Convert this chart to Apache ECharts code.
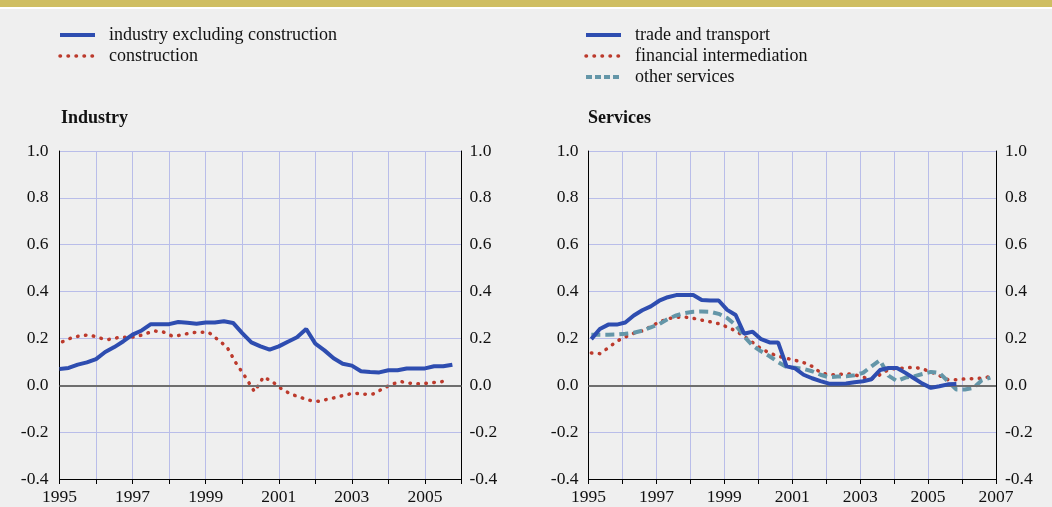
<!DOCTYPE html>
<html>
<head>
<meta charset="utf-8">
<script src="https://cdn.jsdelivr.net/npm/echarts@6/dist/echarts.min.js"></script>
<style>
html,body{margin:0;padding:0;background:#EFEFEF;}
#chart{width:1052px;height:507px;}
</style>
</head>
<body>
<div id="chart"></div>
<script>
// ---- periods (quarterly observations, YYYY-MM) ----
const periodsStart = ['1995-01','1995-04','1995-07','1995-10','1996-01','1996-04','1996-07','1996-10',
  '1997-01','1997-04','1997-07','1997-10','1998-01','1998-04','1998-07','1998-10',
  '1999-01','1999-04','1999-07','1999-10','2000-01','2000-04','2000-07','2000-10',
  '2001-01','2001-04','2001-07','2001-10','2002-01','2002-04','2002-07','2002-10',
  '2003-01','2003-04','2003-07','2003-10','2004-01','2004-04','2004-07','2004-10',
  '2005-01','2005-04','2005-07','2005-10'];
const periodsMid = ['1995-02','1995-05','1995-08','1995-11','1996-02','1996-05','1996-08','1996-11',
  '1997-02','1997-05','1997-08','1997-11','1998-02','1998-05','1998-08','1998-11',
  '1999-02','1999-05','1999-08','1999-11','2000-02','2000-05','2000-08','2000-11',
  '2001-02','2001-05','2001-08','2001-11','2002-02','2002-05','2002-08','2002-11',
  '2003-02','2003-05','2003-08','2003-11','2004-02','2004-05','2004-08','2004-11',
  '2005-02','2005-05','2005-08','2005-11','2006-02','2006-05','2006-08','2006-11'];

// ---- Industry panel ----
const industryExclConstruction = [0.070,0.074,0.088,0.098, 0.112,0.142,0.163,0.188,
  0.216,0.234,0.261,0.261, 0.261,0.270,0.267,0.263, 0.268,0.268,0.273,0.266,
  0.223,0.183,0.166,0.152, 0.166,0.186,0.205,0.240, 0.178,0.149,0.115,0.092,
  0.084,0.060,0.057,0.055, 0.064,0.064,0.072,0.072, 0.072,0.081,0.081,0.088];
const construction = [0.186,0.203,0.212,0.215, 0.202,0.195,0.203,0.205,
  0.206,0.219,0.232,0.228, 0.210,0.214,0.224,0.227, 0.226,0.195,0.163,0.094,
  0.036,-0.027,0.036,0.014, -0.016,-0.038,-0.051,-0.064, -0.068,-0.060,-0.051,-0.040,
  -0.034,-0.038,-0.037,-0.016, 0.004,0.016,0.009,0.006, 0.009,0.013,0.018];

// ---- Services panel ----
const tradeTransport = [0.197,0.240,0.259,0.259, 0.268,0.298,0.320,0.337,
  0.361,0.376,0.385,0.385, 0.385,0.364,0.362,0.362, 0.322,0.300,0.220,0.229,
  0.197,0.183,0.183,0.081, 0.072,0.045,0.030,0.018, 0.007,0.007,0.008,0.013,
  0.017,0.026,0.065,0.074, 0.074,0.053,0.030,0.007, -0.011,-0.004,0.004,0.006];
const financialIntermediation = [0.138,0.135,0.160,0.188, 0.206,0.222,0.232,0.251,
  0.270,0.284,0.290,0.291, 0.286,0.278,0.271,0.263, 0.249,0.232,0.209,0.183,
  0.156,0.138,0.124,0.115, 0.107,0.097,0.081,0.054, 0.045,0.045,0.050,0.045,
  0.034,0.027,0.045,0.067, 0.072,0.074,0.077,0.070, 0.057,0.041,0.024,0.024,
  0.027,0.028,0.031,0.037];
const otherServices = [0.216,0.216,0.216,0.217, 0.220,0.224,0.233,0.247,
  0.261,0.283,0.298,0.308, 0.314,0.315,0.314,0.305, 0.287,0.257,0.209,0.169,
  0.145,0.124,0.099,0.078, 0.075,0.070,0.060,0.045, 0.034,0.037,0.038,0.043,
  0.053,0.081,0.107,0.041, 0.018,0.033,0.038,0.048, 0.057,0.053,0.017,-0.018,
  -0.018,-0.011,0.021,0.033];

// ---- axis ticks ----
const yTicks = {min:-0.4, max:1.0, interval:0.2};
const xIndustry = {min:1995, max:2006};
const xServices = {min:1995, max:2007};
const titles = ['Industry','Services'];

function toYear(p){ const [y,m] = p.split('-').map(Number); return y + (m-1)/12; }
function pair(periods, vals){ return vals.map((v,i)=>[toYear(periods[i]), v]); }

const FONT = '"Liberation Serif","Times New Roman",serif';
const BLUE = '#2E4DB0', RED = '#BC3A2C', TEAL = '#6496A8';
const GRIDC = '#B9BDE9';

const chart = echarts.init(document.getElementById('chart'), null, {renderer:'canvas'});

function xAxisFor(grid, r){
  return {type:'value', gridIndex:grid, min:r.min, max:r.max, interval:1,
    axisLine:{onZero:false, lineStyle:{color:'#000', width:1}},
    axisTick:{show:true, length:5, lineStyle:{color:'#000'}},
    axisLabel:{margin:9, fontFamily:FONT, fontSize:17.5, color:'#111',
      formatter:v => ((v - r.min) % 2 === 0 ? String(v) : '')},
    splitLine:{show:true, lineStyle:{color:GRIDC, width:1}}};
}
function yAxisFor(grid, pos, margin){
  return {type:'value', gridIndex:grid, position:pos, min:yTicks.min, max:yTicks.max, interval:yTicks.interval,
    axisLine:{show:true, onZero:false, lineStyle:{color:'#000', width:1}},
    axisTick:{show:false},
    axisLabel:{margin:margin, fontFamily:FONT, fontSize:17.5, color:'#111', formatter:v => v.toFixed(1)},
    splitLine:{show:pos==='left', lineStyle:{color:GRIDC, width:1}}};
}
const zeroLine = {silent:true, symbol:['none','none'], label:{show:false},
  lineStyle:{color:'#6E6E6E', width:2, type:'solid'}, data:[{yAxis:0}], animation:false};

const solid = c => ({color:c, width:4, type:'solid'});
const dotted = c => ({color:c, width:3.5, type:[0.5,7.5], cap:'round'});
const dashed = c => ({color:c, width:4, type:[9,5]});

const legendText = {fontFamily:FONT, fontSize:18, color:'#111', lineHeight:18, padding:[0,0,0,9]};
const legendBase = {orient:'vertical', padding:0, itemWidth:35, itemHeight:10, itemGap:3, selectedMode:false,
  itemStyle:{opacity:0, borderWidth:0}, textStyle:legendText};

chart.setOption({
  backgroundColor:'#EFEFEF',
  animation:false,
  graphic:[
    {type:'rect', left:0, top:0, shape:{width:1052, height:7}, style:{fill:'#CFBE62'}},
    {type:'rect', left:0, top:7, shape:{width:1052, height:2}, style:{fill:'#FFFFFF'}}
  ],
  title:[
    {text:titles[0], left:61, top:109, padding:0, textStyle:{fontFamily:FONT, fontSize:18, fontWeight:'bold', color:'#111'}},
    {text:titles[1], left:588, top:109, padding:0, textStyle:{fontFamily:FONT, fontSize:18, fontWeight:'bold', color:'#111'}}
  ],
  legend:[
    Object.assign({left:58, top:26, data:[
      {name:'industry excluding construction', lineStyle:solid(BLUE)},
      {name:'construction', lineStyle:dotted(RED)}]}, legendBase),
    Object.assign({left:584, top:26, data:[
      {name:'trade and transport', lineStyle:solid(BLUE)},
      {name:'financial intermediation', lineStyle:dotted(RED)},
      {name:'other services', lineStyle:{color:TEAL, width:4, type:[6,3]}}]}, legendBase)
  ],
  grid:[
    {left:59.5, top:151, width:402, height:328},
    {left:588.5, top:151, width:407.5, height:328}
  ],
  xAxis:[xAxisFor(0, xIndustry), xAxisFor(1, xServices)],
  yAxis:[yAxisFor(0,'left',11), yAxisFor(0,'right',8), yAxisFor(1,'left',10), yAxisFor(1,'right',9)],
  series:[
    {name:'zero0', type:'line', xAxisIndex:0, yAxisIndex:0, data:[], markLine:zeroLine, z:1},
    {name:'zero1', type:'line', xAxisIndex:1, yAxisIndex:2, data:[], markLine:zeroLine, z:1},
    {name:'construction', type:'line', xAxisIndex:0, yAxisIndex:0, symbol:'none',
      lineStyle:dotted(RED), itemStyle:{color:RED}, data:pair(periodsMid, construction), z:3},
    {name:'industry excluding construction', type:'line', xAxisIndex:0, yAxisIndex:0, symbol:'none',
      lineStyle:solid(BLUE), itemStyle:{color:BLUE}, data:pair(periodsStart, industryExclConstruction), z:4},
    {name:'financial intermediation', type:'line', xAxisIndex:1, yAxisIndex:2, symbol:'none',
      lineStyle:dotted(RED), itemStyle:{color:RED}, data:pair(periodsMid, financialIntermediation), z:3},
    {name:'other services', type:'line', xAxisIndex:1, yAxisIndex:2, symbol:'none',
      lineStyle:dashed(TEAL), itemStyle:{color:TEAL}, data:pair(periodsMid, otherServices), z:4},
    {name:'trade and transport', type:'line', xAxisIndex:1, yAxisIndex:2, symbol:'none',
      lineStyle:solid(BLUE), itemStyle:{color:BLUE}, data:pair(periodsMid, tradeTransport), z:5}
  ]
});
</script>
</body>
</html>
